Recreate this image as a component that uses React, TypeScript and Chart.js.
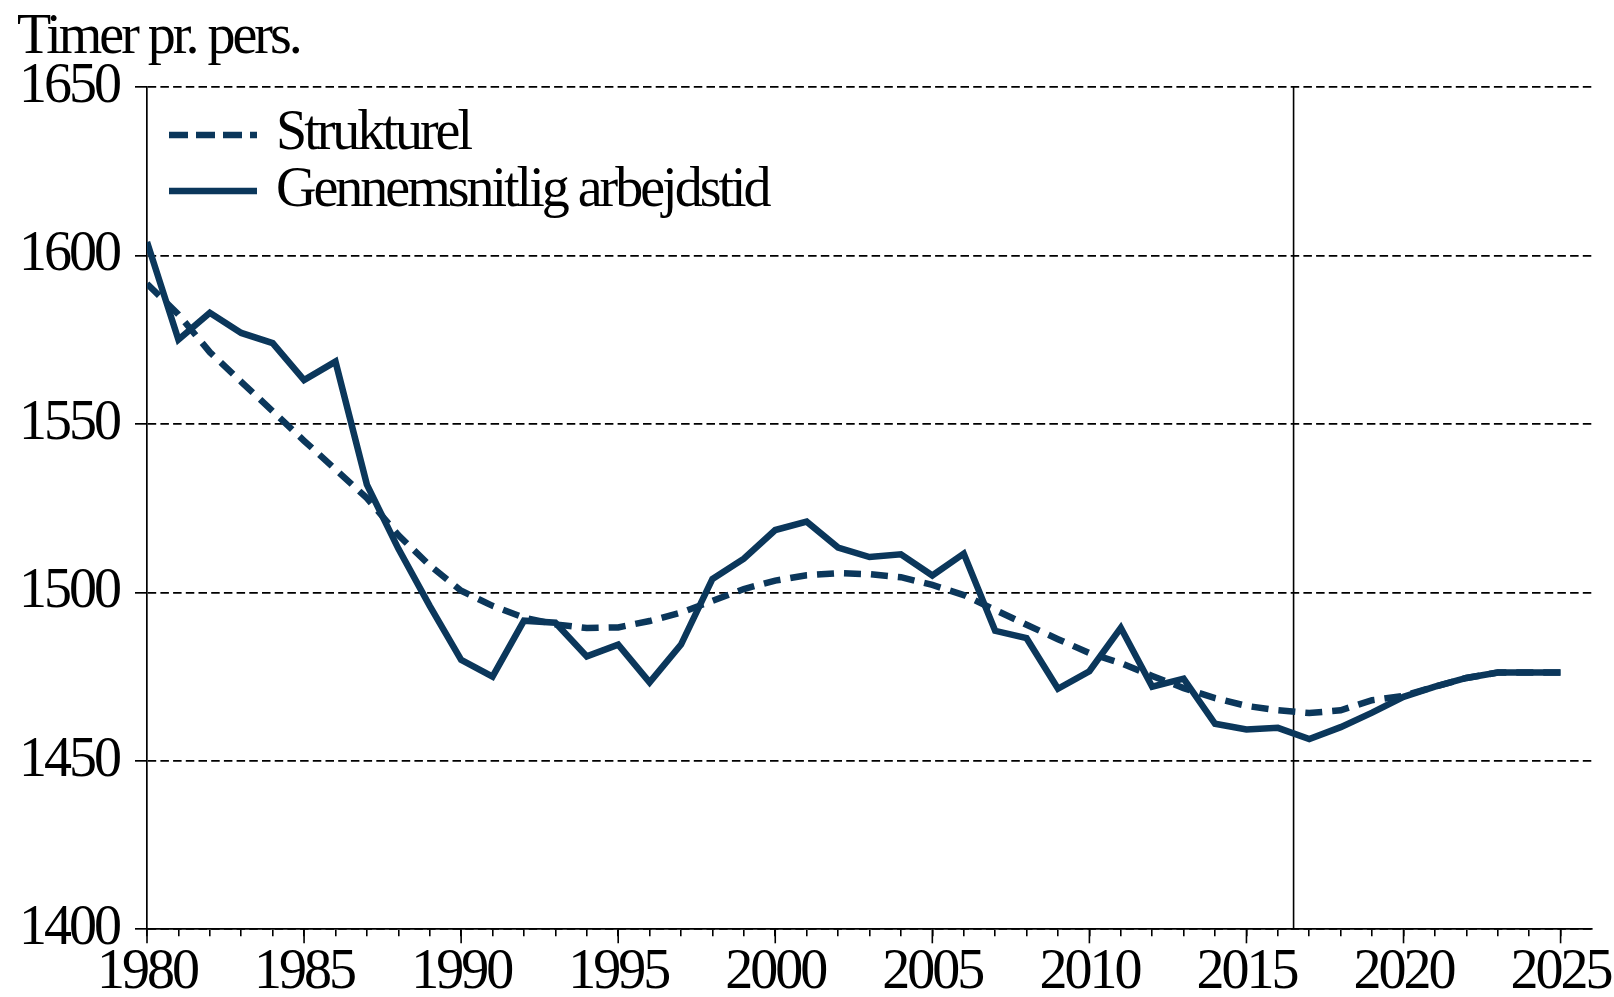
import { useEffect, useRef } from 'react';
import { Chart, registerables } from 'chart.js';

Chart.register(...registerables);

const years = [
  1980, 1981, 1982, 1983, 1984, 1985, 1986, 1987, 1988, 1989,
  1990, 1991, 1992, 1993, 1994, 1995, 1996, 1997, 1998, 1999,
  2000, 2001, 2002, 2003, 2004, 2005, 2006, 2007, 2008, 2009,
  2010, 2011, 2012, 2013, 2014, 2015, 2016, 2017, 2018, 2019,
  2020, 2021, 2022, 2023, 2024, 2025,
];

const strukturel = [
  1591.6, 1582.5, 1571.3, 1562.5, 1553.8, 1545.0, 1536.5, 1528.0, 1517.0, 1508.0,
  1500.5, 1496.0, 1492.5, 1490.5, 1489.4, 1489.6, 1491.5, 1494.0, 1497.5, 1501.0,
  1503.5, 1505.1, 1505.7, 1505.4, 1504.5, 1502.2, 1499.2, 1494.8, 1490.4, 1486.1,
  1482.0, 1479.0, 1475.2, 1471.6, 1468.6, 1466.3, 1465.0, 1464.2, 1465.0, 1468.0,
  1469.3, 1472.0, 1474.6, 1476.2, 1476.2, 1476.2,
];

const gennemsnitlig = [
  1604.0, 1575.0, 1583.0, 1577.0, 1574.0, 1563.0, 1568.5, 1532.0, 1513.0, 1496.0,
  1480.0, 1475.0, 1491.6, 1491.0, 1481.0, 1484.5, 1473.3, 1484.5, 1504.0, 1510.0,
  1518.5, 1521.0, 1513.3, 1510.5, 1511.3, 1505.0, 1511.5, 1488.6, 1486.4, 1471.4,
  1476.6, 1489.5, 1472.0, 1474.4, 1461.0, 1459.3, 1459.8, 1456.5, 1460.0, 1464.3,
  1469.0, 1472.0, 1474.6, 1476.2, 1476.2, 1476.2,
];

const yTicks = [1400, 1450, 1500, 1550, 1600, 1650];
const xLabelYears = [1980, 1985, 1990, 1995, 2000, 2005, 2010, 2015, 2020, 2025];
const xMin = 1980;
const xMax = 2026;
const dividerYear = 2016.5;
const titleText = 'Timer pr. pers.';
const seriesLabels = ['Strukturel', 'Gennemsnitlig arbejdstid'];

const NAVY = '#0b375b';
const FONT = '"Liberation Serif", "Times New Roman", serif';
const SPACING = '-3px';

const customPlugin = {
  id: 'custom',
  beforeUpdate(chart: any) {
    chart.ctx.letterSpacing = SPACING;
  },
  beforeLayout(chart: any) {
    chart.ctx.letterSpacing = SPACING;
  },
  beforeDraw(chart: any) {
    chart.ctx.letterSpacing = SPACING;
  },
  afterDraw(chart: any) {
    const ctx = chart.ctx as CanvasRenderingContext2D;
    const xs = chart.scales.x;
    const area = chart.chartArea;
    ctx.save();
    // longer ticks at labelled years
    ctx.strokeStyle = '#000';
    ctx.lineWidth = 1.6;
    ctx.setLineDash([]);
    for (const yr of xLabelYears) {
      const px = xs.getPixelForValue(yr);
      ctx.beginPath();
      ctx.moveTo(px, area.bottom);
      ctx.lineTo(px, area.bottom + 14);
      ctx.stroke();
    }
    // title
    (ctx as any).letterSpacing = SPACING;
    ctx.fillStyle = '#000';
    ctx.font = `56px ${FONT}`;
    ctx.textAlign = 'left';
    ctx.textBaseline = 'alphabetic';
    ctx.fillText(titleText, 17, 53);
    // legend
    const rows = [
      { lineY: 135, textY: 149, ds: chart.data.datasets[0], dash: [19, 8] },
      { lineY: 191, textY: 206, ds: chart.data.datasets[1], dash: [] as number[] },
    ];
    for (const r of rows) {
      ctx.save();
      ctx.strokeStyle = r.ds.borderColor;
      ctx.lineWidth = 6.5;
      ctx.lineCap = 'butt';
      ctx.setLineDash(r.dash);
      ctx.beginPath();
      ctx.moveTo(169, r.lineY);
      ctx.lineTo(257, r.lineY);
      ctx.stroke();
      ctx.restore();
      ctx.fillStyle = '#000';
      ctx.fillText(r.ds.label, 276, r.textY);
    }
    ctx.restore();
  },
};

export default function App() {
  const ref = useRef<HTMLCanvasElement>(null);

  useEffect(() => {
    document.body.style.margin = '0';
    const canvas = ref.current;
    if (!canvas) return;
    const chart = new Chart(canvas, {
      type: 'line',
      data: {
        datasets: [
          {
            label: seriesLabels[0],
            data: years.map((yr, i) => ({ x: yr, y: strukturel[i] })),
            borderColor: NAVY,
            borderWidth: 6.5,
            borderDash: [17, 10],
            borderJoinStyle: 'miter',
            pointRadius: 0,
            tension: 0,
          },
          {
            label: seriesLabels[1],
            data: years.map((yr, i) => ({ x: yr, y: gennemsnitlig[i] })),
            borderColor: NAVY,
            borderWidth: 6.5,
            borderJoinStyle: 'miter',
            pointRadius: 0,
            tension: 0,
          },
          {
            label: 'divider',
            data: [
              { x: dividerYear, y: yTicks[0] },
              { x: dividerYear, y: yTicks[yTicks.length - 1] },
            ],
            borderColor: '#000',
            borderWidth: 1.6,
            pointRadius: 0,
          },
        ],
      },
      options: {
        animation: false,
        responsive: true,
        maintainAspectRatio: false,
        layout: { padding: { top: 87, right: 22, bottom: 0, left: 0 } },
        plugins: {
          legend: { display: false },
          title: { display: false },
          tooltip: { enabled: false },
        },
        elements: { point: { radius: 0 } },
        scales: {
          x: {
            type: 'linear',
            min: xMin,
            max: xMax,
            afterFit: (s: any) => {
              s.height = 67.7;
            },
            ticks: {
              stepSize: 1,
              autoSkip: false,
              maxRotation: 0,
              minRotation: 0,
              padding: 3,
              color: '#000',
              font: { family: FONT, size: 56 },
              callback: (v: any) => (Number(v) % 5 === 0 ? String(v) : ''),
            },
            grid: {
              drawOnChartArea: false,
              drawTicks: true,
              tickLength: 7,
              color: '#000',
              lineWidth: 1.6,
              tickBorderDash: [],
              tickColor: (c: any) => (c.tick && c.tick.value === xMax ? 'rgba(0,0,0,0)' : '#000'),
            },
            border: { display: true, color: '#000', width: 1.8 },
          },
          y: {
            type: 'linear',
            min: yTicks[0],
            max: yTicks[yTicks.length - 1],
            afterFit: (s: any) => {
              s.width = 147;
            },
            afterBuildTicks: (s: any) => {
              s.ticks = yTicks.map((v) => ({ value: v }));
            },
            ticks: {
              padding: 16,
              color: '#000',
              font: { family: FONT, size: 56 },
              callback: (v: any) => String(v),
            },
            grid: {
              color: '#000',
              lineWidth: 1.7,
              tickLength: 12,
              tickBorderDash: [],
              drawTicks: true,
            },
            border: { display: true, color: '#000', width: 1.7, dash: [8.5, 4.2] },
          },
        },
      },
      plugins: [customPlugin],
    } as any);
    return () => chart.destroy();
  }, []);

  return (
    <div
      style={{
        position: 'absolute',
        left: 0,
        top: 0,
        width: 1614,
        height: 997,
        background: '#fff',
      }}
    >
      <canvas ref={ref} />
    </div>
  );
}
